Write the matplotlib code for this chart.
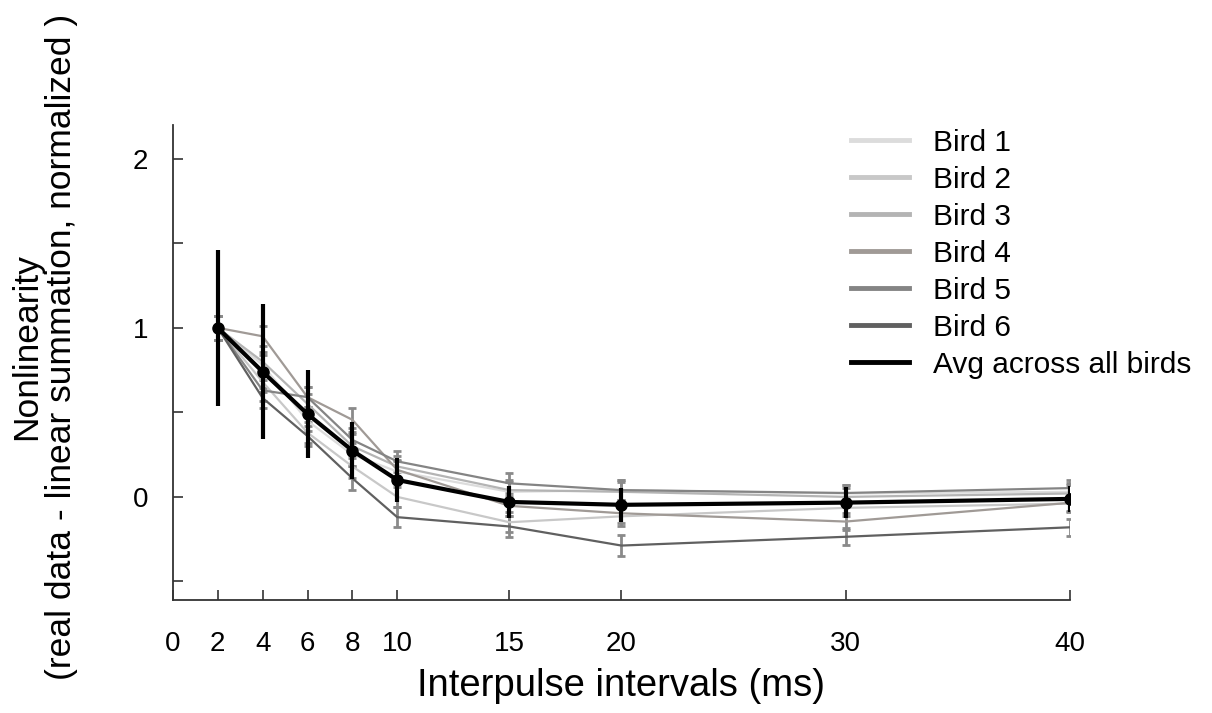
import matplotlib as mpl
mpl.use('Agg')
import matplotlib.pyplot as plt

plt.rcParams['font.family'] = ['Liberation Sans', 'DejaVu Sans']

ipi = [2, 4, 6, 8, 10, 15, 20, 30, 40]
xticks = [0, 2, 4, 6, 8, 10, 15, 20, 30, 40]

bird_names = ['Bird 1', 'Bird 2', 'Bird 3', 'Bird 4', 'Bird 5', 'Bird 6']
bird1 = [1.0, 0.78, 0.45, 0.25, 0.15, 0.03, 0.04, 0.02, 0.03]
bird2 = [1.0, 0.68, 0.38, 0.18, 0.0, -0.15, -0.115, -0.065, -0.04]
bird3 = [1.0, 0.80, 0.55, 0.30, 0.18, 0.04, 0.03, 0.0, 0.02]
bird4 = [1.0, 0.95, 0.59, 0.456, 0.16, -0.053, -0.097, -0.146, -0.035]
bird5 = [1.0, 0.63, 0.59, 0.337, 0.21, 0.08, 0.04, 0.023, 0.052]
bird6 = [1.0, 0.585, 0.36, 0.11, -0.12, -0.175, -0.288, -0.236, -0.18]
bird_err = [0.07, 0.06, 0.06, 0.07, 0.06, 0.06, 0.06, 0.05, 0.05]

avg = [1.0, 0.74, 0.49, 0.274, 0.10, -0.03, -0.047, -0.034, -0.012]
avg_err = [0.46, 0.40, 0.26, 0.17, 0.13, 0.095, 0.10, 0.09, 0.075]

colors = ['#dcdcdc', '#c8c8c8', '#b4b4b4', '#a09a96', '#848484', '#606060']

fig = plt.figure(figsize=(12.12, 7.13), dpi=100)
ax = fig.add_axes([0.1427, 0.1585, 0.7401, 0.6662])

for name, vals, c in zip(bird_names, [bird1, bird2, bird3, bird4, bird5, bird6], colors):
    ax.errorbar(ipi, vals, yerr=bird_err, color=c, lw=1.6, elinewidth=2,
                ecolor='#8a8a8a', capsize=3, capthick=2, label=name, zorder=2)

ax.errorbar(ipi, avg, yerr=avg_err, color='black', lw=3, elinewidth=3,
            marker='o', ms=8, capsize=0, label='Avg across all birds', zorder=3)

ax.set_xlim(0, 40)
ax.set_ylim(-0.61, 2.2)
ax.set_xticks(xticks)
ax.set_xticklabels([str(t) for t in xticks], fontsize=20)
ax.set_yticks([-0.5, 0, 0.5, 1, 1.5, 2])
ax.set_yticklabels(['', '0', '', '1', '', '2'], fontsize=20)
ax.tick_params(direction='in', length=7, width=1.2, color='#333333', pad=22)
ax.tick_params(axis='y', pad=18)
for s in ['top', 'right']:
    ax.spines[s].set_visible(False)
for s in ['left', 'bottom']:
    ax.spines[s].set_color('#333333')
    ax.spines[s].set_linewidth(1.3)

ax.set_xlabel('Interpulse intervals (ms)', fontsize=27.5, labelpad=8)
ax.set_ylabel('Nonlinearity\n(real data - linear summation, normalized )', fontsize=25.5,
              linespacing=1.05)
ax.yaxis.set_label_coords(-0.106, 0.533)

labels = bird_names + ['Avg across all birds']
leg_lines = [plt.Line2D([], [], color=c, lw=3.5) for c in colors] + [plt.Line2D([], [], color='black', lw=3.5)]
ax.legend(leg_lines, labels, loc='upper left', bbox_to_anchor=(0.756, 0.992), frameon=False,
          fontsize=21.5, handlelength=1.94, handletextpad=0.8, labelspacing=0.3,
          borderpad=0, borderaxespad=0)

fig.savefig('out.png', dpi=100)
